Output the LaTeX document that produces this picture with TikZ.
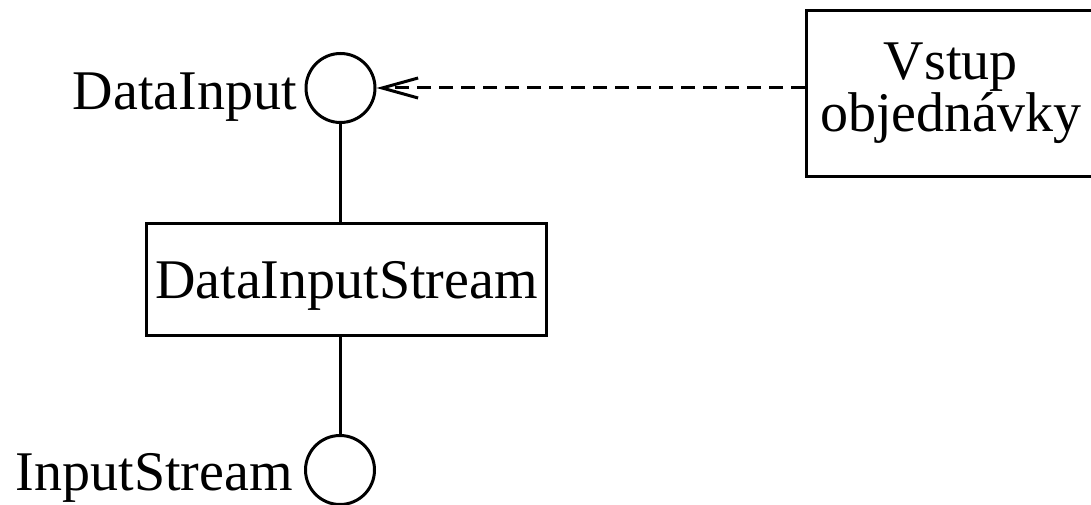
\documentclass[tikz,border=0pt]{standalone}
\usepackage{fontspec}
\setmainfont{Liberation Serif}
\usetikzlibrary{arrows.meta}

\begin{document}
\begin{tikzpicture}[x=1pt,y=-1pt,
  every node/.style={font=\fontsize{56}{50}\selectfont},
  lw/.style={line width=3pt},
  iface/.style={lw,draw,circle,minimum size=69pt,inner sep=0pt},
  classbox/.style={lw,draw,rectangle,inner sep=0pt},
  ifacelabel/.style={anchor=base east,inner sep=0pt},
  dep/.style={lw,dash pattern=on 14pt off 8pt,
    -{Straight Barb[length=36pt,width=20pt,line width=3pt]}},
  link/.style={lw}]
  \useasboundingbox (0,0) rectangle (1091,505);

  % interfaces (lollipops)
  \node[iface] (din) at (340.5,88) {};
  \node[iface] (ins) at (340,470) {};
  \node[ifacelabel] (dinlbl) at (297,110) {DataInput};
  \node[ifacelabel] (inslbl) at (293,490) {InputStream};

  % classes
  \node[classbox,minimum width=400pt,minimum height=112pt,
        text height=45pt,text depth=8pt] (dis) at (346.5,279.5) {DataInputStream};
  \node[classbox,minimum width=288.5pt,minimum height=166pt,align=center]
        (vo) at (950.75,93.5) {Vstup\\objednávky};

  % connectors
  \draw[link] (din.south) -- (din.south |- dis.north);
  \draw[link] (dis.south -| ins.north) -- (ins.north);
  \draw[dep] (vo.west |- din.east) -- (din.east);
\end{tikzpicture}
\end{document}
